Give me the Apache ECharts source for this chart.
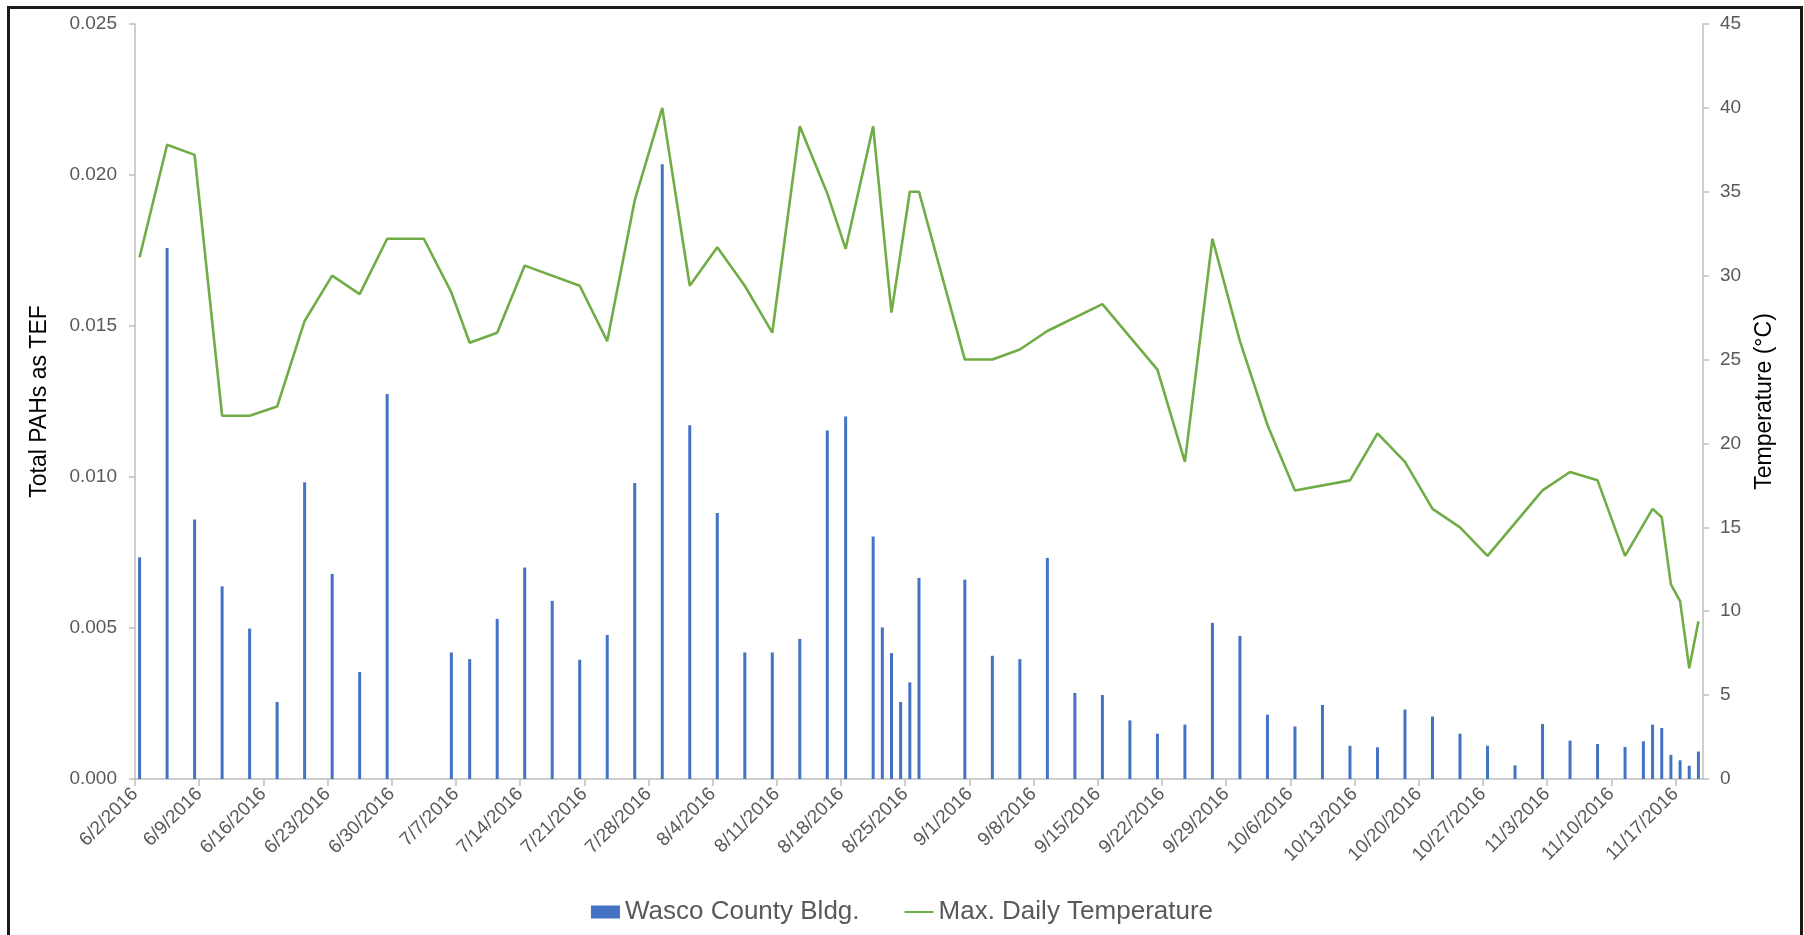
<!DOCTYPE html>
<html>
<head>
<meta charset="utf-8">
<script src="https://cdn.jsdelivr.net/npm/echarts@6/dist/echarts.min.js"></script>
<style>
html,body{margin:0;padding:0;background:#fff;}
#chart{width:1804px;height:935px;}
</style>
</head>
<body>
<div id="chart"></div>
<script>
// ---- Data ----
const xTickLabels = ['6/2/2016','6/9/2016','6/16/2016','6/23/2016','6/30/2016','7/7/2016','7/14/2016','7/21/2016','7/28/2016','8/4/2016','8/11/2016','8/18/2016','8/25/2016','9/1/2016','9/8/2016','9/15/2016','9/22/2016','9/29/2016','10/6/2016','10/13/2016','10/20/2016','10/27/2016','11/3/2016','11/10/2016','11/17/2016'];

const pahDates = ['6/2/2016','6/5/2016','6/8/2016','6/11/2016','6/14/2016','6/17/2016','6/20/2016','6/23/2016','6/26/2016','6/29/2016',
  '7/6/2016','7/8/2016','7/11/2016','7/14/2016','7/17/2016','7/20/2016','7/23/2016','7/26/2016','7/29/2016','8/1/2016',
  '8/4/2016','8/7/2016','8/10/2016','8/13/2016','8/16/2016','8/18/2016','8/21/2016','8/22/2016','8/23/2016','8/24/2016',
  '8/25/2016','8/26/2016','8/31/2016','9/3/2016','9/6/2016','9/9/2016','9/12/2016','9/15/2016','9/18/2016','9/21/2016',
  '9/24/2016','9/27/2016','9/30/2016','10/3/2016','10/6/2016','10/9/2016','10/12/2016','10/15/2016','10/18/2016','10/21/2016',
  '10/24/2016','10/27/2016','10/30/2016','11/2/2016','11/5/2016','11/8/2016','11/11/2016','11/13/2016','11/14/2016','11/15/2016',
  '11/16/2016','11/17/2016','11/18/2016','11/19/2016'];
const pahValues = [0.00734,0.01758,0.00859,0.00638,0.00498,0.00255,0.00983,0.00679,0.00354,0.01275,
  0.00419,0.00397,0.0053,0.0070,0.0059,0.00395,0.00477,0.0098,0.02036,0.01171,
  0.00881,0.00419,0.00419,0.00464,0.01154,0.0120,0.00803,0.00502,0.00417,0.00255,
  0.0032,0.00666,0.0066,0.00408,0.00397,0.00732,0.00285,0.00278,0.00194,0.0015,
  0.0018,0.00517,0.00474,0.00213,0.00174,0.00245,0.0011,0.00105,0.0023,0.00207,
  0.0015,0.0011,0.00045,0.00182,0.00127,0.00116,0.00106,0.00125,0.0018,0.00169,
  0.0008,0.00062,0.00044,0.00091];

const tempDates = ['6/2/2016','6/5/2016','6/8/2016','6/11/2016','6/14/2016','6/17/2016','6/20/2016','6/23/2016','6/26/2016','6/29/2016',
  '7/3/2016','7/6/2016','7/8/2016','7/11/2016','7/14/2016','7/20/2016','7/23/2016','7/26/2016','7/29/2016','8/1/2016',
  '8/4/2016','8/7/2016','8/10/2016','8/13/2016','8/16/2016','8/18/2016','8/21/2016','8/23/2016','8/25/2016','8/26/2016',
  '8/31/2016','9/3/2016','9/6/2016','9/9/2016','9/15/2016','9/21/2016','9/24/2016','9/27/2016','9/30/2016','10/3/2016',
  '10/6/2016','10/12/2016','10/15/2016','10/18/2016','10/21/2016','10/24/2016','10/27/2016','11/2/2016','11/5/2016','11/8/2016',
  '11/11/2016','11/14/2016','11/15/2016','11/16/2016','11/17/2016','11/18/2016','11/19/2016'];
const tempValues = [31.1,37.8,37.2,21.65,21.65,22.2,27.3,30.0,28.9,32.2,
  32.2,29.0,26.0,26.6,30.6,29.4,26.1,34.5,40.0,29.4,
  31.7,29.4,26.6,38.9,34.9,31.6,38.9,27.8,35.0,35.0,
  25.0,25.0,25.6,26.7,28.3,24.4,18.9,32.2,26.1,21.1,
  17.2,17.8,20.6,18.9,16.1,15.0,13.3,17.2,18.3,17.8,
  13.3,16.1,15.6,11.6,10.6,6.6,9.4];

const seriesNames = ['Wasco County Bldg.', 'Max. Daily Temperature'];

// ---- Helpers ----
const baseDate = Date.UTC(2016, 5, 2);
function dayOf(s) {
  const p = s.split('/').map(Number);
  return (Date.UTC(p[2], p[0] - 1, p[1]) - baseDate) / 86400000;
}
const tickValues = xTickLabels.map(dayOf);
const labelByDay = {};
xTickLabels.forEach((l, i) => { labelByDay[tickValues[i]] = l; });

const barData = pahDates.map((d, i) => [dayOf(d) + 0.5, pahValues[i]]);
const lineData = tempDates.map((d, i) => [dayOf(d) + 0.5, tempValues[i]]);

const FONT = '"Liberation Sans", Arial, sans-serif';
const chart = echarts.init(document.getElementById('chart'), null, {renderer: 'canvas'});
chart.setOption({
  animation: false,
  backgroundColor: '#ffffff',
  textStyle: {fontFamily: FONT},
  graphic: [{
    type: 'rect', left: 6, top: 5, silent: true,
    shape: {width: 1793, height: 1000},
    style: {fill: 'none', stroke: '#1a1a1a', lineWidth: 3}
  }],
  grid: {left: 135, right: 101, top: 24, bottom: 156, containLabel: false},
  legend: {
    data: [
      {name: seriesNames[0], icon: 'rect'},
      {name: seriesNames[1], itemStyle: {opacity: 0, borderWidth: 0}}
    ],
    left: 'center', top: 894,
    itemWidth: 29, itemHeight: 13, itemGap: 44,
    textStyle: {fontSize: 26, color: '#595959', fontFamily: FONT}
  },
  xAxis: {
    type: 'value', min: 0, max: 171, interval: 7,
    axisLine: {show: true, lineStyle: {color: '#bfbfbf', width: 1.5}},
    axisTick: {show: true, customValues: tickValues, length: 7, inside: false, lineStyle: {color: '#bfbfbf', width: 1.5}},
    axisLabel: {
      customValues: tickValues, rotate: 45, margin: 12,
      fontSize: 19, color: '#595959', fontFamily: FONT,
      formatter: v => labelByDay[v] || ''
    },
    splitLine: {show: false}
  },
  yAxis: [{
    type: 'value', min: 0, max: 0.025, interval: 0.005, position: 'left',
    name: 'Total PAHs as TEF', nameLocation: 'middle', nameGap: 84, nameRotate: 90,
    nameTextStyle: {fontSize: 23, color: '#000000', fontFamily: FONT},
    axisLine: {show: true, lineStyle: {color: '#bfbfbf', width: 1.5}},
    axisTick: {show: true, length: 6, lineStyle: {color: '#bfbfbf', width: 1.5}},
    axisLabel: {fontSize: 19, color: '#595959', margin: 18, fontFamily: FONT, formatter: v => v.toFixed(3)},
    splitLine: {show: false}
  }, {
    type: 'value', min: 0, max: 45, interval: 5, position: 'right',
    name: 'Temperature (°C)', nameLocation: 'middle', nameGap: 50, nameRotate: 90,
    nameTextStyle: {fontSize: 23, color: '#000000', fontFamily: FONT},
    axisLine: {show: true, lineStyle: {color: '#bfbfbf', width: 1.5}},
    axisTick: {show: true, length: 6, lineStyle: {color: '#bfbfbf', width: 1.5}},
    axisLabel: {fontSize: 19, color: '#595959', margin: 17, fontFamily: FONT},
    splitLine: {show: false}
  }],
  series: [{
    name: seriesNames[0], type: 'bar', xAxisIndex: 0, yAxisIndex: 0,
    data: barData, barWidth: 3,
    itemStyle: {color: '#4472C4'}
  }, {
    name: seriesNames[1], type: 'line', xAxisIndex: 0, yAxisIndex: 1,
    data: lineData, symbol: 'none', showSymbol: false,
    lineStyle: {color: '#70AD47', width: 2.6},
    itemStyle: {color: '#70AD47'}
  }]
});
</script>
</body>
</html>
